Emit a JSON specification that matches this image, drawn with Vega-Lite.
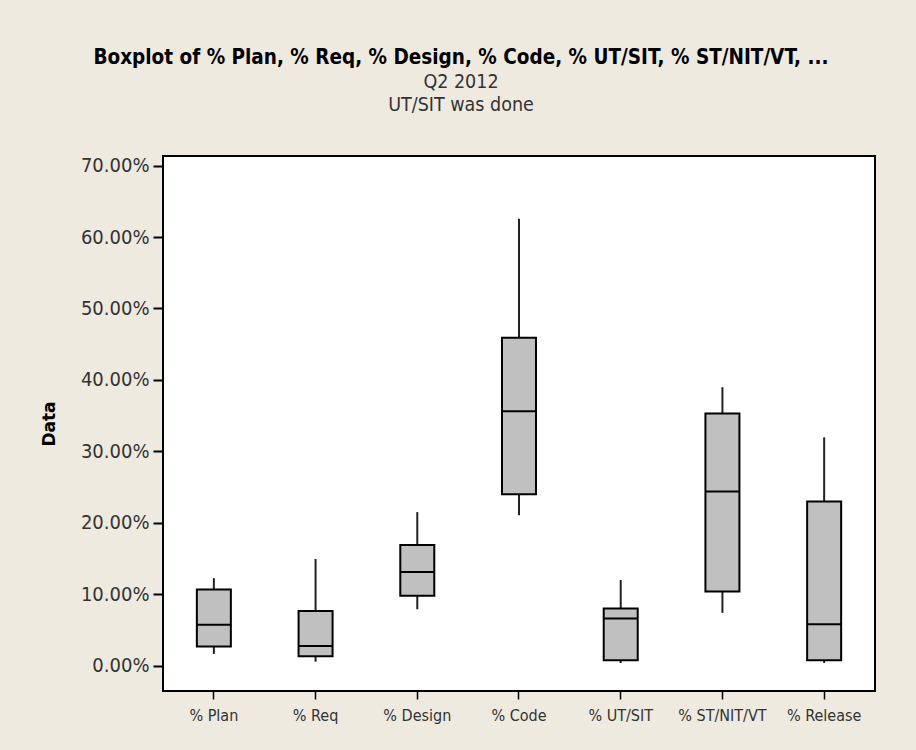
{
  "$schema": "https://vega.github.io/schema/vega-lite/v6.json",
  "width": 712,
  "height": 535,
  "autosize": {"type": "none"},
  "padding": {"left": 163, "top": 156, "right": 41, "bottom": 59},
  "background": "#EEEAE0",
  "title": {
    "text": "Boxplot of % Plan, % Req, % Design, % Code, % UT/SIT, % ST/NIT/VT, ...",
    "subtitle": ["Q2 2012", "UT/SIT was done"],
    "anchor": "middle",
    "dx": -58,
    "offset": 41,
    "font": "DejaVu Sans Condensed",
    "fontSize": 20.5,
    "fontWeight": "bold",
    "color": "#000000",
    "subtitleFont": "DejaVu Sans Condensed",
    "subtitleFontSize": 19.5,
    "subtitleColor": "#333333",
    "subtitleLineHeight": 23,
    "subtitlePadding": 5
  },
  "data": {
    "values": [
      {"cat": "% Plan", "lower": 0.0165, "q1": 0.0268, "median": 0.0572, "q3": 0.1065, "upper": 0.1225},
      {"cat": "% Req", "lower": 0.0056, "q1": 0.0131, "median": 0.0276, "q3": 0.0766, "upper": 0.1494},
      {"cat": "% Design", "lower": 0.079, "q1": 0.098, "median": 0.131, "q3": 0.169, "upper": 0.215},
      {"cat": "% Code", "lower": 0.2105, "q1": 0.240, "median": 0.356, "q3": 0.459, "upper": 0.6255},
      {"cat": "% UT/SIT", "lower": 0.0038, "q1": 0.0077, "median": 0.066, "q3": 0.080, "upper": 0.120},
      {"cat": "% ST/NIT/VT", "lower": 0.074, "q1": 0.104, "median": 0.244, "q3": 0.353, "upper": 0.3898},
      {"cat": "% Release", "lower": 0.0038, "q1": 0.0077, "median": 0.058, "q3": 0.230, "upper": 0.3196}
    ]
  },
  "encoding": {
    "x": {
      "field": "cat",
      "type": "nominal",
      "sort": null,
      "scale": {"paddingInner": 0, "paddingOuter": 0},
      "axis": {
        "title": null,
        "labelAngle": 0,
        "labelFont": "DejaVu Sans Condensed",
        "labelFontSize": 16,
        "labelColor": "#333333",
        "labelPadding": 8,
        "tickSize": 8,
        "tickWidth": 1.5,
        "tickColor": "#000000",
        "domain": false,
        "grid": false
      }
    }
  },
  "layer": [
    {
      "mark": {"type": "rule", "color": "#222222", "strokeWidth": 2},
      "encoding": {
        "y": {
          "field": "lower",
          "type": "quantitative",
          "scale": {"domain": [-0.0354, 0.7134], "nice": false, "zero": false},
          "axis": {
            "title": "Data",
            "titleFont": "DejaVu Sans",
            "titleFontSize": 17,
            "titleFontWeight": "bold",
            "titleColor": "#000000",
            "titlePadding": 22,
            "format": ".2%",
            "values": [0, 0.1, 0.2, 0.3, 0.4, 0.5, 0.6, 0.7],
            "labelFont": "DejaVu Sans Condensed",
            "labelFontSize": 20,
            "labelColor": "#333333",
            "labelPadding": 4,
            "tickSize": 10,
            "tickWidth": 2,
            "tickColor": "#000000",
            "domain": false,
            "grid": false
          }
        },
        "y2": {"field": "upper"}
      }
    },
    {
      "mark": {"type": "bar", "size": 34, "fill": "#C0C0C0", "stroke": "#000000", "strokeWidth": 2},
      "encoding": {
        "y": {"field": "q1", "type": "quantitative"},
        "y2": {"field": "q3"}
      }
    },
    {
      "mark": {"type": "tick", "size": 34, "thickness": 2, "color": "#000000", "opacity": 1},
      "encoding": {
        "y": {"field": "median", "type": "quantitative"}
      }
    }
  ],
  "config": {
    "view": {"stroke": "#000000", "strokeWidth": 2, "fill": "#FFFFFF"}
  }
}
